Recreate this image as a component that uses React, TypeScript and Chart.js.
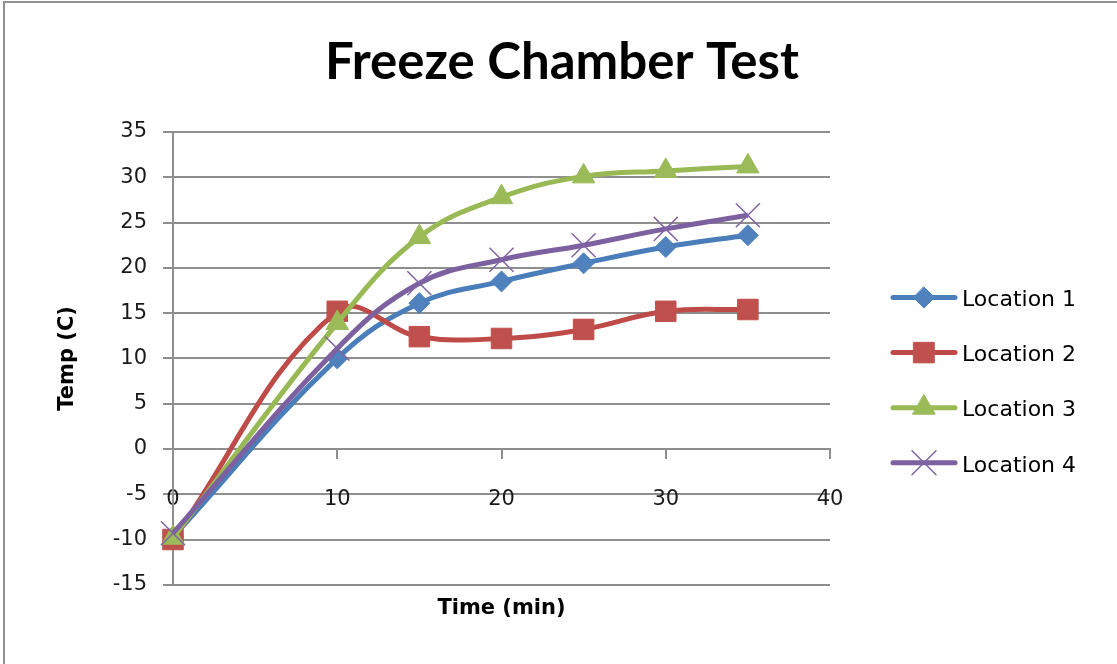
import React, { useEffect, useRef } from 'react';
import { Chart, registerables } from 'chart.js';

Chart.register(...registerables);

// ---- data ----
const chartTitle = 'Freeze Chamber Test';
const xAxisTitle = 'Time (min)';
const yAxisTitle = 'Temp (C)';
const seriesNames = ['Location 1', 'Location 2', 'Location 3', 'Location 4'];
const timeMin = [0, 10, 15, 20, 25, 30, 35];
const location1 = [-9.7, 10.0, 16.1, 18.5, 20.5, 22.3, 23.6];
const location2 = [-10.0, 15.2, 12.4, 12.2, 13.2, 15.2, 15.4];
const location3 = [-9.8, 13.9, 23.4, 27.8, 30.1, 30.7, 31.2];
const location4 = [-9.3, 11.1, 18.3, 20.9, 22.5, 24.3, 25.8];
const xTickValues = [0, 10, 20, 30, 40];
const yTickValues = [-15, -10, -5, 0, 5, 10, 15, 20, 25, 30, 35];

// ---- styles ----
const lineColors = ['#4A7EBB', '#BE4B48', '#98B954', '#7D60A0'];
const markerColors = ['#4F81BD', '#C0504D', '#9BBB59', '#8064A2'];
const markerStyles = ['rectRot', 'rect', 'triangle', 'crossRot'];
const markerRadius = [10.5, 14.5, 13, 17];
const gridColor = '#8e8e8e';

function drawMarker(ctx: CanvasRenderingContext2D, style: string, x: number, y: number, r: number, fill: string, stroke: string, bw: number) {
  ctx.save();
  ctx.fillStyle = fill;
  ctx.strokeStyle = stroke;
  ctx.lineWidth = bw;
  ctx.beginPath();
  if (style === 'rectRot') {
    ctx.moveTo(x, y - r);
    ctx.lineTo(x + r, y);
    ctx.lineTo(x, y + r);
    ctx.lineTo(x - r, y);
    ctx.closePath();
    ctx.fill();
    ctx.stroke();
  } else if (style === 'rect') {
    const s = Math.SQRT1_2 * r;
    ctx.rect(x - s, y - s, 2 * s, 2 * s);
    ctx.fill();
    ctx.stroke();
  } else if (style === 'triangle') {
    ctx.moveTo(x, y - r);
    ctx.lineTo(x + Math.sin((2 * Math.PI) / 3) * r, y + 0.5 * r);
    ctx.lineTo(x - Math.sin((2 * Math.PI) / 3) * r, y + 0.5 * r);
    ctx.closePath();
    ctx.fill();
    ctx.stroke();
  } else {
    const d = Math.SQRT1_2 * r;
    ctx.moveTo(x - d, y - d);
    ctx.lineTo(x + d, y + d);
    ctx.moveTo(x + d, y - d);
    ctx.lineTo(x - d, y + d);
    ctx.stroke();
  }
  ctx.restore();
}

const excelLegend = {
  id: 'excelLegend',
  afterDraw(chart: any) {
    const ctx: CanvasRenderingContext2D = chart.ctx;
    const ca = chart.chartArea;
    chart.data.datasets.forEach((ds: any, i: number) => {
      const y = ca.top + 165.5 + i * 55.1;
      const x0 = ca.right + 63;
      ctx.save();
      ctx.strokeStyle = ds.borderColor;
      ctx.lineWidth = 5;
      ctx.lineCap = 'round';
      ctx.beginPath();
      ctx.moveTo(x0, y);
      ctx.lineTo(x0 + 62, y);
      ctx.stroke();
      drawMarker(ctx, ds.pointStyle, x0 + 31, y, ds.pointRadius, ds.pointBackgroundColor, ds.pointBorderColor, ds.pointBorderWidth);
      ctx.fillStyle = '#000';
      ctx.font = '22px "DejaVu Sans"';
      ctx.textBaseline = 'middle';
      ctx.textAlign = 'left';
      ctx.fillText(ds.label, x0 + 69, y + 3);
      ctx.restore();
    });
  },
};

export default function App() {
  const canvasRef = useRef<HTMLCanvasElement | null>(null);

  useEffect(() => {
    if (!canvasRef.current) return;
    const series = [location1, location2, location3, location4];
    const datasets = series.map((vals, i) => ({
      label: seriesNames[i],
      data: timeMin.map((t, j) => ({ x: t, y: vals[j] })),
      borderColor: lineColors[i],
      backgroundColor: markerColors[i],
      borderWidth: 5,
      tension: 0.4,
      pointStyle: markerStyles[i],
      pointRadius: markerRadius[i],
      pointHoverRadius: markerRadius[i],
      pointBackgroundColor: markerColors[i],
      pointBorderColor: markerColors[i],
      pointBorderWidth: i === 3 ? 1.5 : 1,
      clip: false,
      order: 4 - i,
      fill: false,
      yAxisID: 'y',
      xAxisID: 'x',
    }));

    const chart = new Chart(canvasRef.current, {
      type: 'line',
      data: { datasets } as any,
      plugins: [excelLegend],
      options: {
        animation: false,
        responsive: true,
        maintainAspectRatio: false,
        layout: { padding: { left: 7, right: 0, top: 0, bottom: 0 } },
        plugins: {
          legend: { display: false },
          tooltip: { enabled: false },
          title: {
            display: true,
            text: chartTitle,
            color: '#000',
            font: { family: 'Lato', weight: 'bold', size: 51 },
            padding: { top: 32, bottom: 38.8 },
          },
          subtitle: {
            display: true,
            text: xAxisTitle,
            position: 'bottom',
            fullSize: false,
            color: '#000',
            font: { family: 'DejaVu Sans', weight: 'bold', size: 21 },
            padding: { top: 11, bottom: 43 },
          },
        },
        scales: {
          x: {
            type: 'linear',
            position: { y: 0 },
            min: 0,
            max: 40,
            afterBuildTicks: (s: any) => {
              s.ticks = xTickValues.map((v) => ({ value: v }));
            },
            grid: { drawOnChartArea: false, drawTicks: true, tickLength: 9, color: gridColor, lineWidth: 2 },
            border: { display: true, color: gridColor, width: 2 },
            ticks: {
              padding: 29,
              color: '#1a1a1a',
              font: { family: 'DejaVu Sans', size: 21 },
              maxRotation: 0,
              autoSkip: false,
            },
          },
          y: {
            type: 'linear',
            position: 'left',
            min: -15,
            max: 35,
            afterBuildTicks: (s: any) => {
              s.ticks = yTickValues.map((v) => ({ value: v }));
            },
            afterFit: (s: any) => {
              s.width = 166;
            },
            grid: { color: gridColor, lineWidth: 2, tickLength: 10, drawTicks: true },
            border: { display: true, color: gridColor, width: 2 },
            ticks: {
              padding: 16,
              color: '#1a1a1a',
              font: { family: 'DejaVu Sans', size: 21 },
              autoSkip: false,
            },
            title: {
              display: true,
              text: yAxisTitle,
              color: '#000',
              font: { family: 'DejaVu Sans', weight: 'bold', size: 21 },
              padding: { top: 48, bottom: 0 },
            },
          },
          legendSpace: {
            type: 'linear',
            position: 'right',
            min: 0,
            max: 1,
            grid: { display: false, drawTicks: false },
            border: { display: false },
            ticks: { display: false },
            title: { display: false },
            afterFit: (s: any) => {
              s.width = 287;
            },
          },
        },
      } as any,
    });
    return () => chart.destroy();
  }, []);

  return (
    <div style={{ position: 'absolute', left: 0, top: 0, width: 1117, height: 664, background: '#fff' }}>
      <canvas ref={canvasRef} />
      <div
        style={{
          position: 'absolute',
          left: 3,
          top: 1,
          right: 0,
          bottom: 0,
          borderTop: '2px solid #909090',
          borderLeft: '2px solid #909090',
          pointerEvents: 'none',
        }}
      />
    </div>
  );
}
